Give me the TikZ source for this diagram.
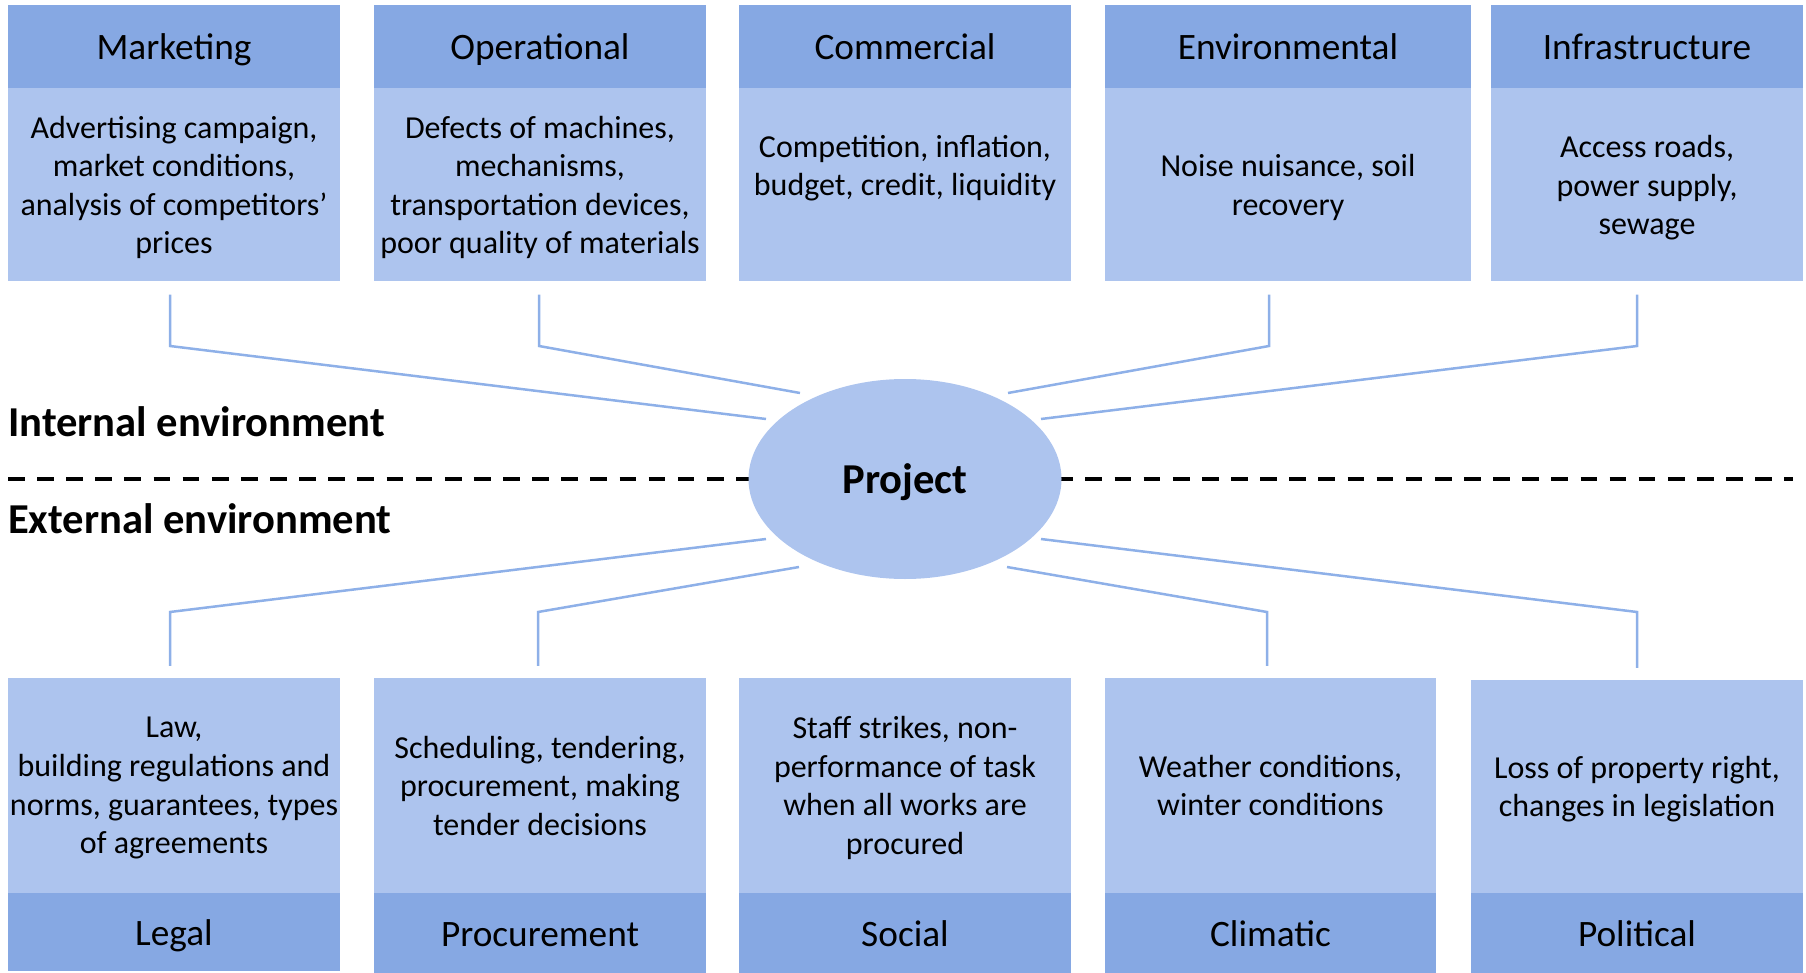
\documentclass[tikz,border=0pt]{standalone}
\usepackage{fontspec}
\setmainfont{Carlito}
\usetikzlibrary{shapes.geometric, positioning}

\definecolor{hdrblue}{HTML}{86A8E3}
\definecolor{bodyblue}{HTML}{ADC4EE}
\definecolor{linkblue}{HTML}{8EB0E8}

\newcommand{\hdrsize}{\fontsize{37.3}{45}\selectfont}
\newcommand{\txtsize}{\fontsize{32}{38.6}\selectfont}
\newcommand{\lblsize}{\fontsize{42.6}{51}\selectfont\bfseries}
% one line box as a word processor sets it
\newcommand{\linestrut}{\rule[-0.265em]{0pt}{1.21em}}

\tikzset{
  cellhead/.style={rectangle, fill=hdrblue, inner sep=0pt, minimum height=83, font=\hdrsize,
    execute at begin node=\linestrut},
  cellfoot/.style={cellhead, minimum height=80},
  cellbody/.style={rectangle, fill=bodyblue, inner sep=0pt, align=center, font=\txtsize,
    text depth=0pt},
  spoke/.style={draw=linkblue, line width=2.5pt},
  divider/.style={line width=3.3pt, dash pattern=on 16.7pt off 12.42pt},
}

\begin{document}
\begin{tikzpicture}[x=1pt, y=-1pt, node distance=0pt]
\useasboundingbox (0,0) rectangle (1806,973);

% internal factors
\node[cellhead, minimum width=332] (mkt) at (174,46.5) {Marketing};
\node[cellbody, minimum width=332, minimum height=193, below=of mkt] (mkt-b)
  {Advertising campaign,\\ market conditions,\\ analysis of competitors'\\ prices};
\node[cellhead, minimum width=332] (ops) at (540,46.5) {Operational};
\node[cellbody, minimum width=332, minimum height=193, below=of ops] (ops-b)
  {Defects of machines,\\ mechanisms,\\ transportation devices,\\ poor quality of materials};
\node[cellhead, minimum width=332] (com) at (905,46.5) {Commercial};
\node[cellbody, minimum width=332, minimum height=193, below=of com] (com-b)
  {Competition, inflation,\\ budget, credit, liquidity\\ \mbox{}};
\node[cellhead, minimum width=366] (env) at (1288,46.5) {Environmental};
\node[cellbody, minimum width=366, minimum height=193, below=of env] (env-b)
  {Noise nuisance, soil\\ recovery};
\node[cellhead, minimum width=312] (inf) at (1647,46.5) {Infrastructure};
\node[cellbody, minimum width=312, minimum height=193, below=of inf] (inf-b)
  {Access roads,\\ power supply,\\ sewage};

% external factors
\node[cellbody, minimum width=332, minimum height=215] (leg-b) at (174,785.5)
  {Law,\\ building regulations and\\ norms, guarantees, types\\ of agreements};
\node[cellfoot, minimum width=332, minimum height=78, below=of leg-b] (leg) {Legal};
\node[cellbody, minimum width=332, minimum height=215] (pro-b) at (540,785.5)
  {Scheduling, tendering,\\ procurement, making\\ tender decisions};
\node[cellfoot, minimum width=332, below=of pro-b] (pro) {Procurement};
\node[cellbody, minimum width=332, minimum height=215] (soc-b) at (905,785.5)
  {Staff strikes, non-\\ performance of task\\ when all works are\\ procured};
\node[cellfoot, minimum width=332, below=of soc-b] (soc) {Social};
\node[cellbody, minimum width=331, minimum height=215] (cli-b) at (1270.5,785.5)
  {Weather conditions,\\ winter conditions};
\node[cellfoot, minimum width=331, below=of cli-b] (cli) {Climatic};
\node[cellbody, minimum width=332, minimum height=213] (pol-b) at (1637,786.5)
  {Loss of property right,\\ changes in legislation};
\node[cellfoot, minimum width=332, below=of pol-b] (pol) {Political};

% border between the two environments
\coordinate (rule-l) at (8,479);
\coordinate (rule-r) at (1793,479);
\draw[divider] (rule-l) -- (rule-r);

\node[ellipse, fill=bodyblue, minimum width=313, minimum height=200, inner sep=0pt,
  font=\lblsize, execute at begin node=\linestrut] (proj) at (905,479) {Project};

\node[anchor=base west, inner sep=0pt, font=\lblsize] (internal) at (8,436) {Internal environment};
\node[anchor=base west, inner sep=0pt, font=\lblsize] (external) at (8,533) {External environment};

% spokes
\foreach \k/\dx/\dy in {mkt/-139/-60, ops/-105/-86, env/103/-86, inf/136/-60,
                        leg/-139/60, pro/-106/88, cli/102/88, pol/136/60}
  \path (proj.center) ++(\dx,\dy) coordinate (\k-in);
\foreach \k/\x in {mkt/170, ops/539, env/1269, inf/1637}{
  \coordinate (\k-knee) at (\x,346);
  \draw[spoke, shorten <=13pt] (\k-b.south -| \k-knee) -- (\k-knee) -- (\k-in);
}
\foreach \k/\x in {leg/170, pro/538, cli/1267, pol/1637}{
  \coordinate (\k-knee) at (\x,612);
  \draw[spoke, shorten <=12pt] (\k-b.north -| \k-knee) -- (\k-knee) -- (\k-in);
}
\end{tikzpicture}
\end{document}
